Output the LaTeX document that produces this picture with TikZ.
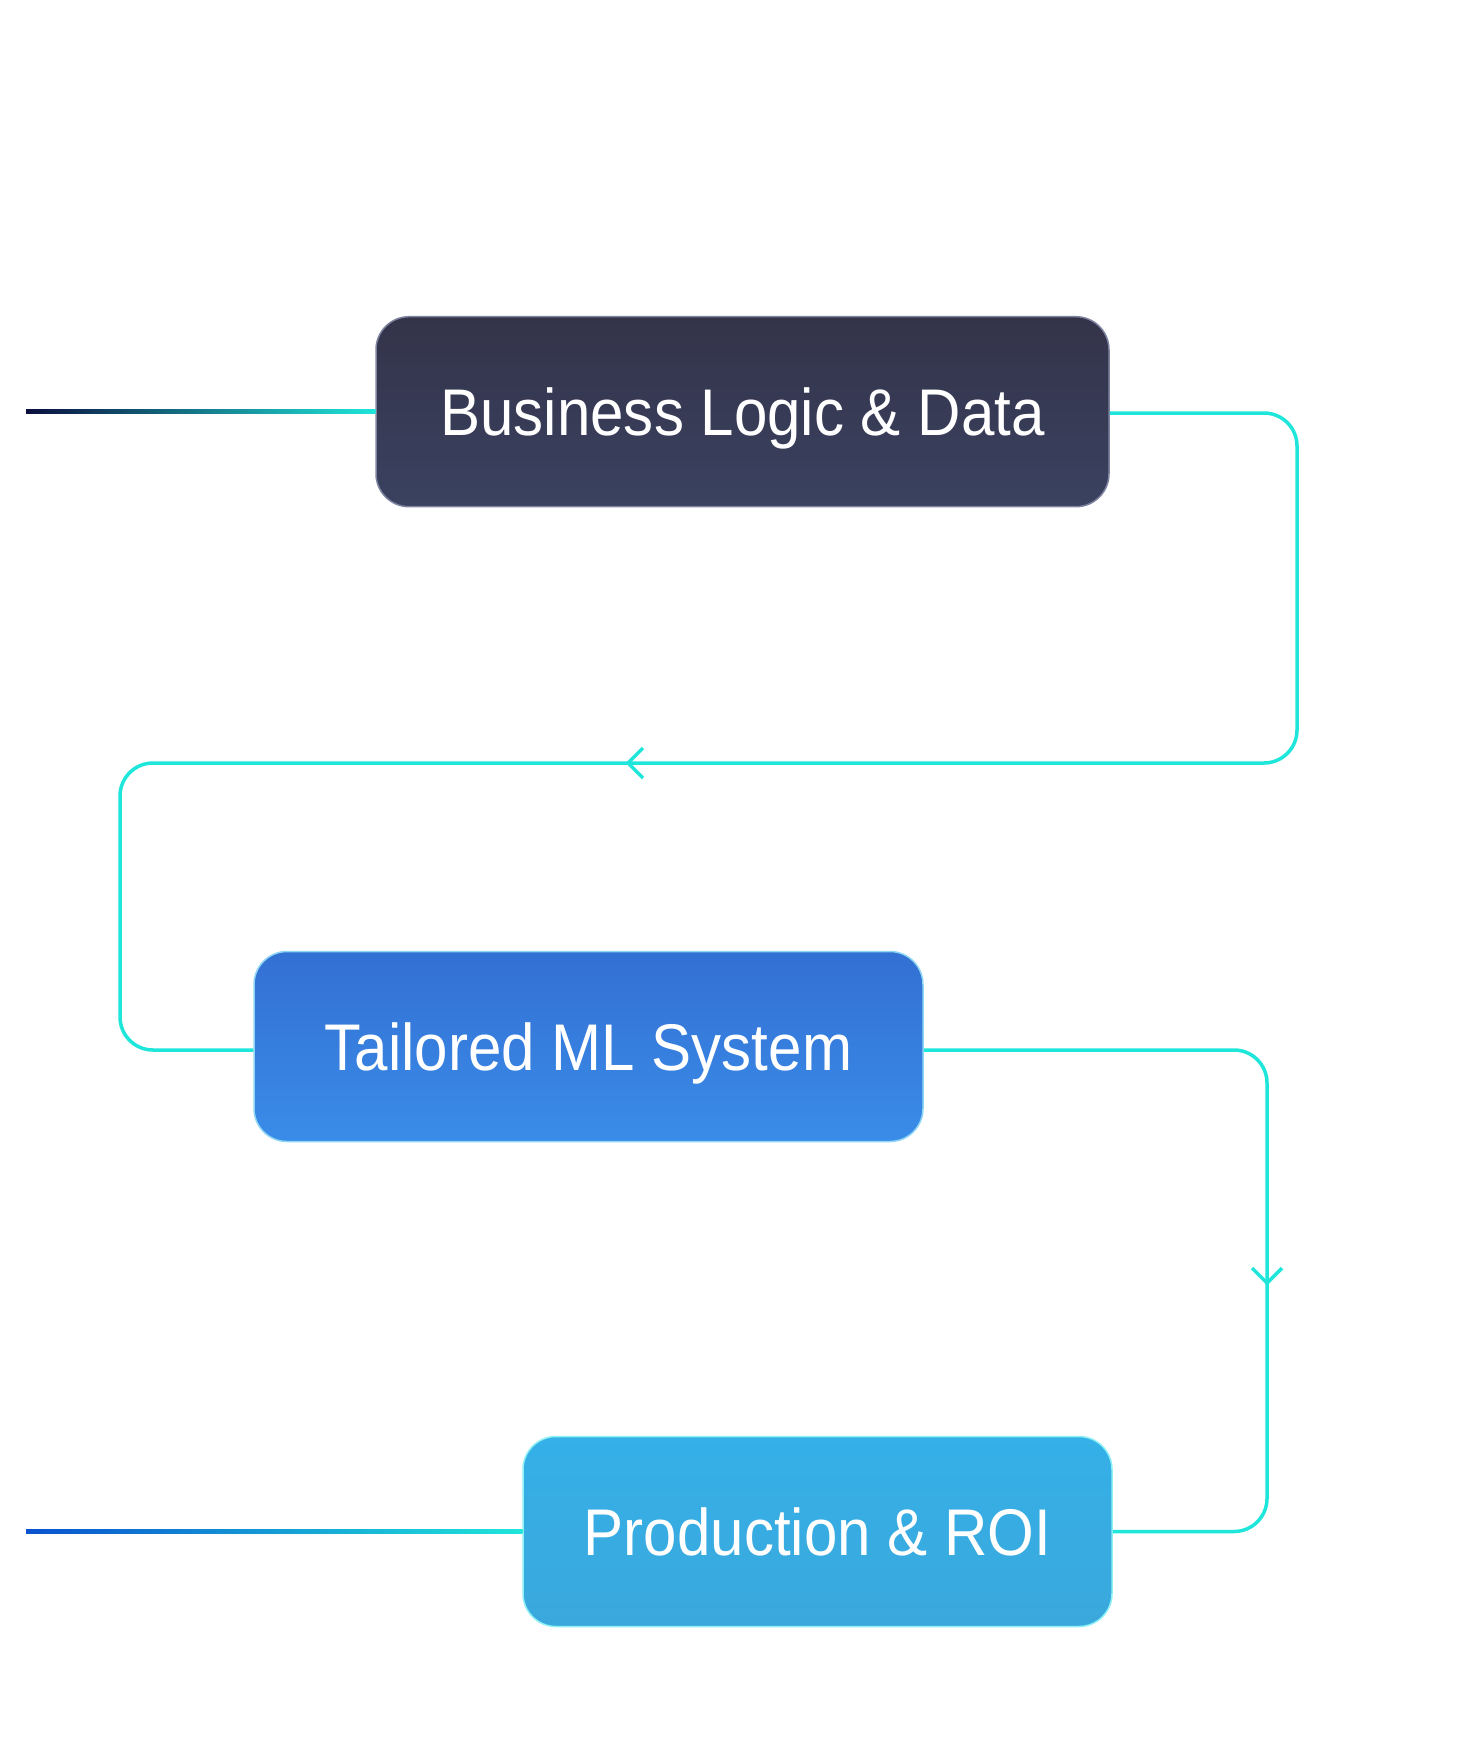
\documentclass[tikz,border=0pt]{standalone}
\usepackage{fontspec}
\setmainfont{Liberation Sans}
\usetikzlibrary{calc}
\definecolor{cyanline}{HTML}{1FE6DA}
\definecolor{navy}{HTML}{0B0F3E}
\definecolor{royal}{HTML}{0A52CF}
\definecolor{darkA}{HTML}{34334A}
\definecolor{darkB}{HTML}{3A4260}
\definecolor{darkE}{HTML}{7E84A0}
\definecolor{blueA}{HTML}{3370D3}
\definecolor{blueB}{HTML}{3A8CE9}
\definecolor{blueE}{HTML}{8ED6F4}
\definecolor{skyA}{HTML}{35B0E8}
\definecolor{skyB}{HTML}{3AA8DC}
\definecolor{skyE}{HTML}{8CF0F4}
\newcommand{\narrowtxt}[1]{\scalebox{0.91}[1]{#1}}
\tikzset{
  box/.style={rounded corners=33pt, inner sep=0pt, minimum height=190pt, line width=1.5pt,
    text=white, font=\fontsize{66}{66}\selectfont, text height=47pt, text depth=0pt},
  conn/.style={draw=cyanline, line width=3.5pt, rounded corners=33pt},
  chev/.style={draw=cyanline, line width=3.5pt},
}
\begin{document}
\begin{tikzpicture}[x=1pt,y=-1pt]
\useasboundingbox (0,0) rectangle (1469,1743);
\fill[white] (0,0) rectangle (1469,1743);
% nodes
\node[box, draw=darkE, top color=darkA, bottom color=darkB, minimum width=733pt] (b1) at (742.5,411.7) {\narrowtxt{Business Logic \& Data}};
\node[box, draw=blueE, top color=blueA, bottom color=blueB, minimum width=669pt] (b2) at (588.5,1046.5) {\narrowtxt{Tailored ML System}};
\node[box, draw=skyE, top color=skyA, bottom color=skyB, minimum width=589pt] (b3) at (817.5,1531.5) {\narrowtxt{Production \& ROI}};
% left gradient lines
\coordinate (s1) at (26,411.7);
\coordinate (s3) at (26,1531.5);
\shade[left color=navy, right color=cyanline] ($(s1)+(0,-2)$) rectangle ($(b1.west)+(0,2)$);
\shade[left color=royal, right color=cyanline] ($(s3)+(0,-2)$) rectangle ($(b3.west)+(0,2)$);
% connectors
\draw[conn] ($(b1.east)+(0,1.5)$) -- (1297,413) -- (1297,763) -- (120,763) -- (120,1050) -- ($(b2.west)+(0,3.5)$);
\draw[conn] ($(b2.east)+(0,3.5)$) -- (1267,1050) -- (1267,1531.5) -- (b3.east);
% chevrons
\coordinate (a1) at (628,763);
\coordinate (a2) at (1267,1283);
\draw[chev] ($(a1)+(15,-15)$) -- (a1) -- ($(a1)+(15,15)$);
\draw[chev] ($(a2)+(-15,-15)$) -- (a2) -- ($(a2)+(15,-15)$);
\end{tikzpicture}
\end{document}
